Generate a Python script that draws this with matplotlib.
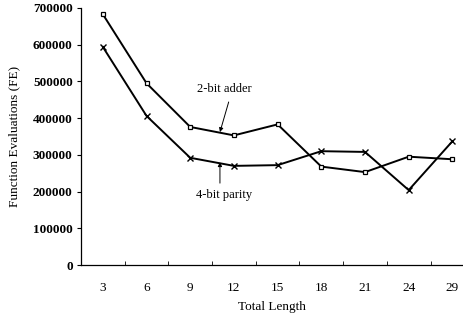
import numpy as np
import matplotlib
matplotlib.use("Agg")
from matplotlib import pyplot as plt

plt.rcParams["font.family"] = ["Liberation Serif", "DejaVu Serif"]

lengths = ["3", "6", "9", "12", "15", "18", "21", "24", "29"]
adder_2bit = [683000, 495000, 376000, 353000, 383000, 268000, 253000, 295000, 288000]
parity_4bit = [594000, 406000, 292000, 270000, 272000, 310000, 308000, 204000, 337000]

fig = plt.figure(figsize=(4.63, 3.22), dpi=100)
ax = fig.add_axes([81 / 463, 1 - 265 / 322, 381 / 463, 257 / 322])

x = np.arange(len(lengths))
ax.plot(x, adder_2bit, color="black", lw=1.4, marker="s", ms=3.5,
        mfc="white", mec="black", mew=0.9)
ax.plot(x, parity_4bit, color="black", lw=1.4, marker="x", ms=4, mew=1.0)

ax.set_xlim(-0.5, 8.22)
ax.set_ylim(0, 700000)
ax.set_yticks(np.arange(0, 700001, 100000))
ax.set_yticklabels([f"{v:d}" for v in range(0, 700001, 100000)],
                   fontsize=9.5, fontweight="semibold")
ax.tick_params(axis="y", direction="out", length=3, width=0.8, pad=3)

# category labels sit between the tick marks
ax.set_xticks(np.arange(0.5, 8.0, 1.0))
ax.set_xticklabels([])
ax.tick_params(axis="x", direction="in", length=3, width=0.6)
ax.set_xticks(x, minor=True)
ax.set_xticklabels(lengths, minor=True, fontsize=9.5)
ax.tick_params(axis="x", which="minor", length=0, pad=12)

for side in ("top", "right"):
    ax.spines[side].set_visible(False)
for side in ("left", "bottom"):
    ax.spines[side].set_linewidth(0.9)

ax.set_xlabel("Total Length", fontsize=9.5, labelpad=5)
ax.set_ylabel("Function Evaluations (FE)", fontsize=9.5, labelpad=9)

arrow = dict(arrowstyle="-|>", color="black", lw=0.7, mutation_scale=6,
             shrinkA=0, shrinkB=0)
ax.text(2.77, 479000, "2-bit adder", fontsize=9, ha="center", va="center")
ax.annotate("", xy=(2.68, 362000), xytext=(2.88, 444000), arrowprops=arrow)
ax.text(2.77, 190000, "4-bit parity", fontsize=9, ha="center", va="center")
ax.annotate("", xy=(2.68, 280000), xytext=(2.68, 223000), arrowprops=arrow)

fig.savefig("out.png", dpi=100)
